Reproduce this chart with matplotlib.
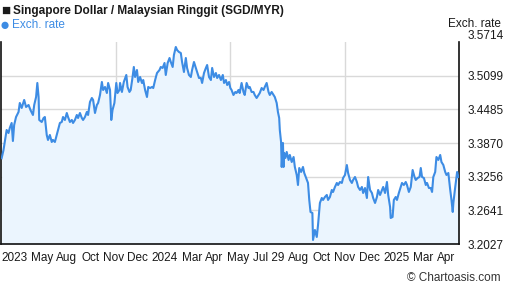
import matplotlib
matplotlib.use('Agg')
import matplotlib.pyplot as plt

plt.rcParams['font.family'] = ['Liberation Sans', 'DejaVu Sans']

# SGD/MYR exchange rate (x = days since start of series)
day = [1, 4, 6, 9, 12, 14, 17, 19, 21, 24, 28, 30, 33, 37, 40, 44, 47, 51, 53, 56,
       58, 60, 61, 65, 68, 70, 73, 75, 78, 81, 83, 86, 89, 91, 94, 97, 99, 102, 105, 107,
       110, 113, 115, 118, 121, 123, 126, 129, 131, 134, 137, 139, 142, 145, 147, 150, 153, 155, 158, 161,
       163, 166, 169, 171, 174, 176, 178, 181, 184, 186, 189, 190, 193, 196, 200, 202, 205, 207, 210, 212,
       214, 217, 219, 222, 225, 227, 230, 233, 235, 238, 241, 243, 246, 249, 253, 255, 258, 261, 263, 266,
       269, 271, 274, 276, 279, 281, 284, 287, 289, 292, 295, 297, 300, 303, 305, 308, 311, 313, 316, 319,
       321, 324, 327, 329, 332, 335, 337, 340, 343, 345, 348, 351, 354, 356, 359, 361, 364, 366, 368, 371,
       374, 376, 379, 381, 384, 387, 389, 392, 395, 397, 400, 403, 405, 408, 411, 413, 416, 419, 421, 424,
       427, 429, 432, 435, 437, 440, 442, 444, 445, 447, 448, 450, 451, 452, 454, 456, 459, 461, 464, 467,
       469, 472, 474, 476, 479, 482, 484, 487, 490, 492, 494, 497, 498, 501, 504, 506, 509, 512, 514, 517,
       520, 522, 525, 528, 530, 533, 536, 538, 541, 544, 546, 549, 552, 554, 557, 560, 562, 565, 568, 570,
       573, 576, 578, 581, 584, 586, 589, 592, 594, 597, 600, 602, 605, 608, 610, 613, 616, 618, 621, 622,
       625, 627, 630, 632, 635, 638, 640, 643, 646, 648, 651, 654, 657, 660, 662, 665, 668, 670, 672, 675,
       678, 680, 683, 686, 688, 690, 693, 695, 698, 701, 703, 706, 709, 711, 714, 717, 719, 721, 722, 725,
       728, 730]
rate = [3.3592, 3.3743, 3.3894, 3.4108, 3.4053, 3.4145, 3.4236, 3.3907, 3.4199, 3.4345,
        3.4437, 3.4601, 3.4510, 3.4656, 3.4528, 3.4564, 3.4473, 3.4382, 3.4564, 3.4710,
        3.4966, 3.4710, 3.4291, 3.4254, 3.4327, 3.4345, 3.4017, 3.3926, 3.4017, 3.3889,
        3.3926, 3.3889, 3.4017, 3.4108, 3.4236, 3.4254, 3.4345, 3.4291, 3.4418, 3.4345,
        3.4254, 3.4291, 3.4236, 3.4291, 3.4382, 3.4327, 3.4418, 3.4327, 3.4291, 3.4345,
        3.4437, 3.4382, 3.4619, 3.4692, 3.4656, 3.4418, 3.4564, 3.4601, 3.4747, 3.4984,
        3.4838, 3.4893, 3.4783, 3.4966, 3.4838, 3.4291, 3.4473, 3.4601, 3.4966, 3.4783,
        3.4838, 3.4966, 3.4802, 3.4984, 3.5112, 3.4893, 3.4802, 3.4838, 3.5075, 3.5258,
        3.5075, 3.5203, 3.4984, 3.5075, 3.4966, 3.5020, 3.4838, 3.4710, 3.4893, 3.4874,
        3.4893, 3.4874, 3.5020, 3.5148, 3.5203, 3.5258, 3.5240, 3.5331, 3.5112, 3.5331,
        3.5422, 3.5349, 3.5258, 3.5477, 3.5623, 3.5568, 3.5532, 3.5513, 3.5349, 3.5167,
        3.5422, 3.5240, 3.5112, 3.5075, 3.5203, 3.5349, 3.5240, 3.5167, 3.5057, 3.5057,
        3.4966, 3.5148, 3.5240, 3.5294, 3.5075, 3.5020, 3.5240, 3.5075, 3.5148, 3.5057,
        3.5112, 3.5020, 3.5112, 3.4966, 3.5020, 3.4929, 3.4984, 3.4874, 3.4838, 3.4747,
        3.4802, 3.4783, 3.4838, 3.4783, 3.4966, 3.4802, 3.4747, 3.4966, 3.4874, 3.4893,
        3.4802, 3.4802, 3.4747, 3.4692, 3.4747, 3.4783, 3.4874, 3.4838, 3.4893, 3.4966,
        3.4802, 3.4747, 3.4802, 3.4747, 3.4710, 3.4601, 3.4437, 3.4327, 3.4108, 3.3889,
        3.3433, 3.3871, 3.3433, 3.3688, 3.3597, 3.3707, 3.3561, 3.3652, 3.3524, 3.3615,
        3.3433, 3.3287, 3.3104, 3.3414, 3.3342, 3.3433, 3.3323, 3.3232, 3.3141, 3.2831,
        3.2612, 3.2593, 3.2101, 3.2283, 3.2155, 3.2374, 3.2776, 3.2867, 3.2831, 3.2885,
        3.2922, 3.2831, 3.2885, 3.3013, 3.2977, 3.3068, 3.3141, 3.3104, 3.3159, 3.3141,
        3.3232, 3.3287, 3.3469, 3.3323, 3.3196, 3.3141, 3.3196, 3.3250, 3.3159, 3.3068,
        3.3013, 3.3068, 3.2958, 3.3049, 3.2867, 3.3250, 3.3013, 3.2958, 3.2867, 3.2776,
        3.2885, 3.3013, 3.2922, 3.3013, 3.3068, 3.2958, 3.3159, 3.2922, 3.2703, 3.2502,
        3.2520, 3.2831, 3.2885, 3.2831, 3.2958, 3.3068, 3.3141, 3.3104, 3.3159, 3.3104,
        3.2977, 3.3068, 3.3378, 3.3250, 3.3196, 3.3232, 3.3250, 3.3414, 3.3250, 3.3232,
        3.3104, 3.3141, 3.3049, 3.3049, 3.2977, 3.3250, 3.3342, 3.3615, 3.3561, 3.3652,
        3.3524, 3.3469, 3.3342, 3.3287, 3.3323, 3.3013, 3.2831, 3.2612, 3.2776, 3.3068,
        3.3342, 3.3250]

y_ticks = [3.2027, 3.2641, 3.3256, 3.3870, 3.4485, 3.5099, 3.5714]
x_labels = ['2023', 'May', 'Aug', 'Oct', 'Nov', 'Dec', '2024', 'Mar', 'Apr', 'May',
            'Jul 29', 'Aug', 'Oct', 'Nov', 'Dec', '2025', 'Mar', 'Apr']

line_color = '#3d8ce4'
fill_color = '#ebf5fe'
text_color = '#1a1a1a'
W, H = 507, 288

fig = plt.figure(figsize=(W / 100, H / 100), dpi=100)
ax = fig.add_axes([1 / W, 44 / H, 458 / W, 202 / H])

x_min, x_max = 0, 731
ax.set_xlim(x_min, x_max)
ax.set_ylim(y_ticks[0], y_ticks[-1])

ax.fill_between(day, rate, y_ticks[0], color=fill_color, lw=0, zorder=1)
ax.plot(day, rate, color=line_color, lw=1.5, zorder=3)

# grid
for v in y_ticks[1:-1]:
    ax.axhline(v, color='#d9d9d9', lw=1, zorder=0)
for f in (0.25, 0.5, 0.75):
    ax.axvline(x_min + f * (x_max - x_min), color='#d9d9d9', lw=1, zorder=0)

for side in ('left', 'bottom', 'right'):
    ax.spines[side].set_color('#111111')
    ax.spines[side].set_linewidth(1.2)
ax.spines['top'].set_visible(False)

# right-hand y axis labels
ax.yaxis.tick_right()
ax.set_yticks(y_ticks)
ax.set_yticklabels([f'{v:.4f}' for v in y_ticks])
ax.tick_params(axis='y', length=0, pad=6, labelsize=8.5, labelcolor=text_color)
ax.get_yticklabels()[-1].set_verticalalignment('bottom')

# x labels laid out left to right with an even gap, like the original
fig.canvas.draw()
renderer = fig.canvas.get_renderer()
widths = []
for lab in x_labels:
    t = fig.text(0, 0, lab, fontsize=8.5)
    widths.append(t.get_window_extent(renderer).width)
    t.remove()
span_left, span_right = 1, 455
gap = (span_right - span_left - sum(widths)) / (len(x_labels) - 1)
ax_box = ax.get_window_extent(renderer)
centers = []
pos = span_left
for w in widths:
    centers.append(pos + w / 2)
    pos += w + gap
tick_pos = [x_min + (c - ax_box.x0) / ax_box.width * (x_max - x_min) for c in centers]
ax.set_xticks(tick_pos)
ax.set_xticklabels(x_labels)
ax.tick_params(axis='x', length=0, pad=6, labelsize=8.5, labelcolor=text_color)

# header, legend and credit
fig.text(1 / W, 1 - 10.5 / H, '\u25a0', fontsize=11, color='#1a1a1a', va='center', ha='left')
fig.text(13 / W, 1 - 11 / H, 'Singapore Dollar / Malaysian Ringgit (SGD/MYR)',
         fontsize=8.5, fontweight='bold', color='#1a1a1a', va='center', ha='left')
fig.text(0 / W, 1 - 25.5 / H, '\u25cf', fontsize=12, color=line_color, va='center', ha='left')
fig.text(12 / W, 1 - 25 / H, 'Exch. rate', fontsize=8.5, color=line_color, va='center', ha='left')
fig.text(501 / W, 1 - 24 / H, 'Exch. rate', fontsize=8.5, color=text_color, va='center', ha='right')
fig.text(501 / W, 1 - 278 / H, '\u00a9 Chartoasis.com', fontsize=8.5, color='#333333',
         va='center', ha='right')

fig.savefig('out.png', dpi=100)
